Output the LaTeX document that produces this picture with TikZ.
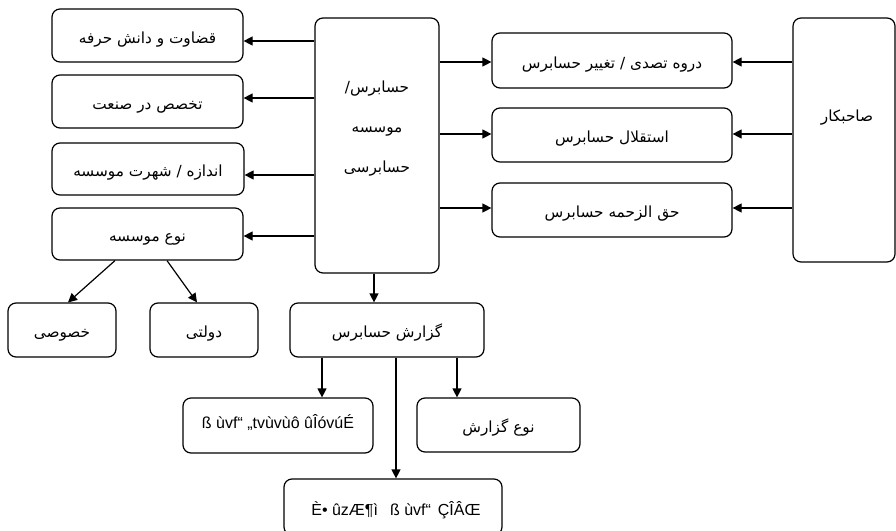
\documentclass[tikz,border=0pt]{standalone}
\usepackage{fontspec}
\setmainfont{Liberation Sans}
\newfontfamily\arabicfont[Script=Arabic]{DejaVu Sans}
\TeXXeTstate=1
\usetikzlibrary{arrows.meta,calc}
\newcommand{\ar}[1]{{\arabicfont\beginR #1\endR}}
\begin{document}
\begin{tikzpicture}[x=1pt,y=-1pt,
  box/.style={draw, line width=1.2pt, rounded corners=8pt, inner sep=0pt, text height=15pt, text depth=0pt, font=\fontsize{15.3}{18}\selectfont},
  latinbox/.style={box, font=\fontsize{16}{19}\selectfont},
  arr/.style={line width=1.2pt, -{Triangle[length=9pt,width=9pt]}},
  lbl/.style={inner sep=0pt, font=\fontsize{15.3}{18}\selectfont}]
\useasboundingbox (0,0) rectangle (896,530);
% left column
\node[box, minimum width=191pt, minimum height=53pt] (q) at (147.5,35.5) {\ar{قضاوت و دانش حرفه}};
\node[box, minimum width=191pt, minimum height=53pt] (t) at (147.5,101.5) {\ar{تخصص در صنعت}};
\node[box, minimum width=192pt, minimum height=52pt] (a) at (148,169) {\ar{اندازه / شهرت موسسه}};
\node[box, minimum width=191pt, minimum height=52pt] (m) at (147.5,234) {\ar{نوع موسسه}};
% central
\node[box, minimum width=124pt, minimum height=255pt] (c) at (377,145.5) {};
\node[lbl, align=center, font=\fontsize{15.3}{40}\selectfont] (ct) at (377,129) {\ar{حسابرس/}\\\ar{موسسه}\\\ar{حسابرسی}};
% right column
\node[box, minimum width=240pt, minimum height=55pt] (r1) at (612,60.5) {\ar{دروه تصدی / تغییر حسابرس}};
\node[box, minimum width=240pt, minimum height=54pt] (r2) at (612,135) {\ar{استقلال حسابرس}};
\node[box, minimum width=240pt, minimum height=54pt] (r3) at (612,210) {\ar{حق الزحمه حسابرس}};
\node[box, minimum width=102pt, minimum height=244pt] (s) at (844,140) {};
\node[lbl] (st) at (847,118) {\ar{صاحبکار}};
% bottom
\node[box, minimum width=108pt, minimum height=54pt] (kh) at (62,330) {\ar{خصوصی}};
\node[box, minimum width=108pt, minimum height=54pt] (d) at (204,330) {\ar{دولتی}};
\node[box, minimum width=194pt, minimum height=54pt] (g) at (387,330) {\ar{گزارش حسابرس}};
\node[latinbox, text height=5pt, minimum width=190pt, minimum height=55pt] (b1) at (278,425.5) {ß ùvf“ „tvùvùô ûÎóvúÉ};
\node[box, minimum width=163pt, minimum height=54pt] (b2) at (498.5,425) {\ar{نوع گزارش}};
\node[latinbox, text height=16pt, minimum width=218pt, minimum height=56pt] (b3) at (393,507) {\hspace{6pt}È• ûzÆ¶ì\hspace{12pt}ß ùvf“\hspace{7pt}ÇÎÂŒ};
% arrows central -> left
\draw[arr] (c.west |- 0,41) -- (q.east |- 0,41);
\draw[arr] (c.west |- 0,98) -- (t.east |- 0,98);
\draw[arr] (c.west |- 0,175) -- (a.east |- 0,175);
\draw[arr] (c.west |- 0,236) -- (m.east |- 0,236);
% central -> right boxes
\draw[arr] (c.east |- 0,62) -- (r1.west |- 0,62);
\draw[arr] (c.east |- 0,134) -- (r2.west |- 0,134);
\draw[arr] (c.east |- 0,208) -- (r3.west |- 0,208);
% owner -> right boxes
\draw[arr] (s.west |- 0,62) -- (r1.east |- 0,62);
\draw[arr] (s.west |- 0,134) -- (r2.east |- 0,134);
\draw[arr] (s.west |- 0,208) -- (r3.east |- 0,208);
% type of firm
\draw[arr] (m.south -| 115,0) -- (kh.north -| 68,0);
\draw[arr] (m.south -| 167,0) -- (d.north -| 197,0);
% report
\draw[arr] (c.south -| 374,0) -- (g.north -| 374,0);
\draw[arr] (g.south -| 322,0) -- (b1.north -| 322,0);
\draw[arr] (g.south -| 396,0) -- (b3.north -| 396,0);
\draw[arr] (g.south -| 457,0) -- (b2.north -| 457,0);
\end{tikzpicture}
\end{document}
